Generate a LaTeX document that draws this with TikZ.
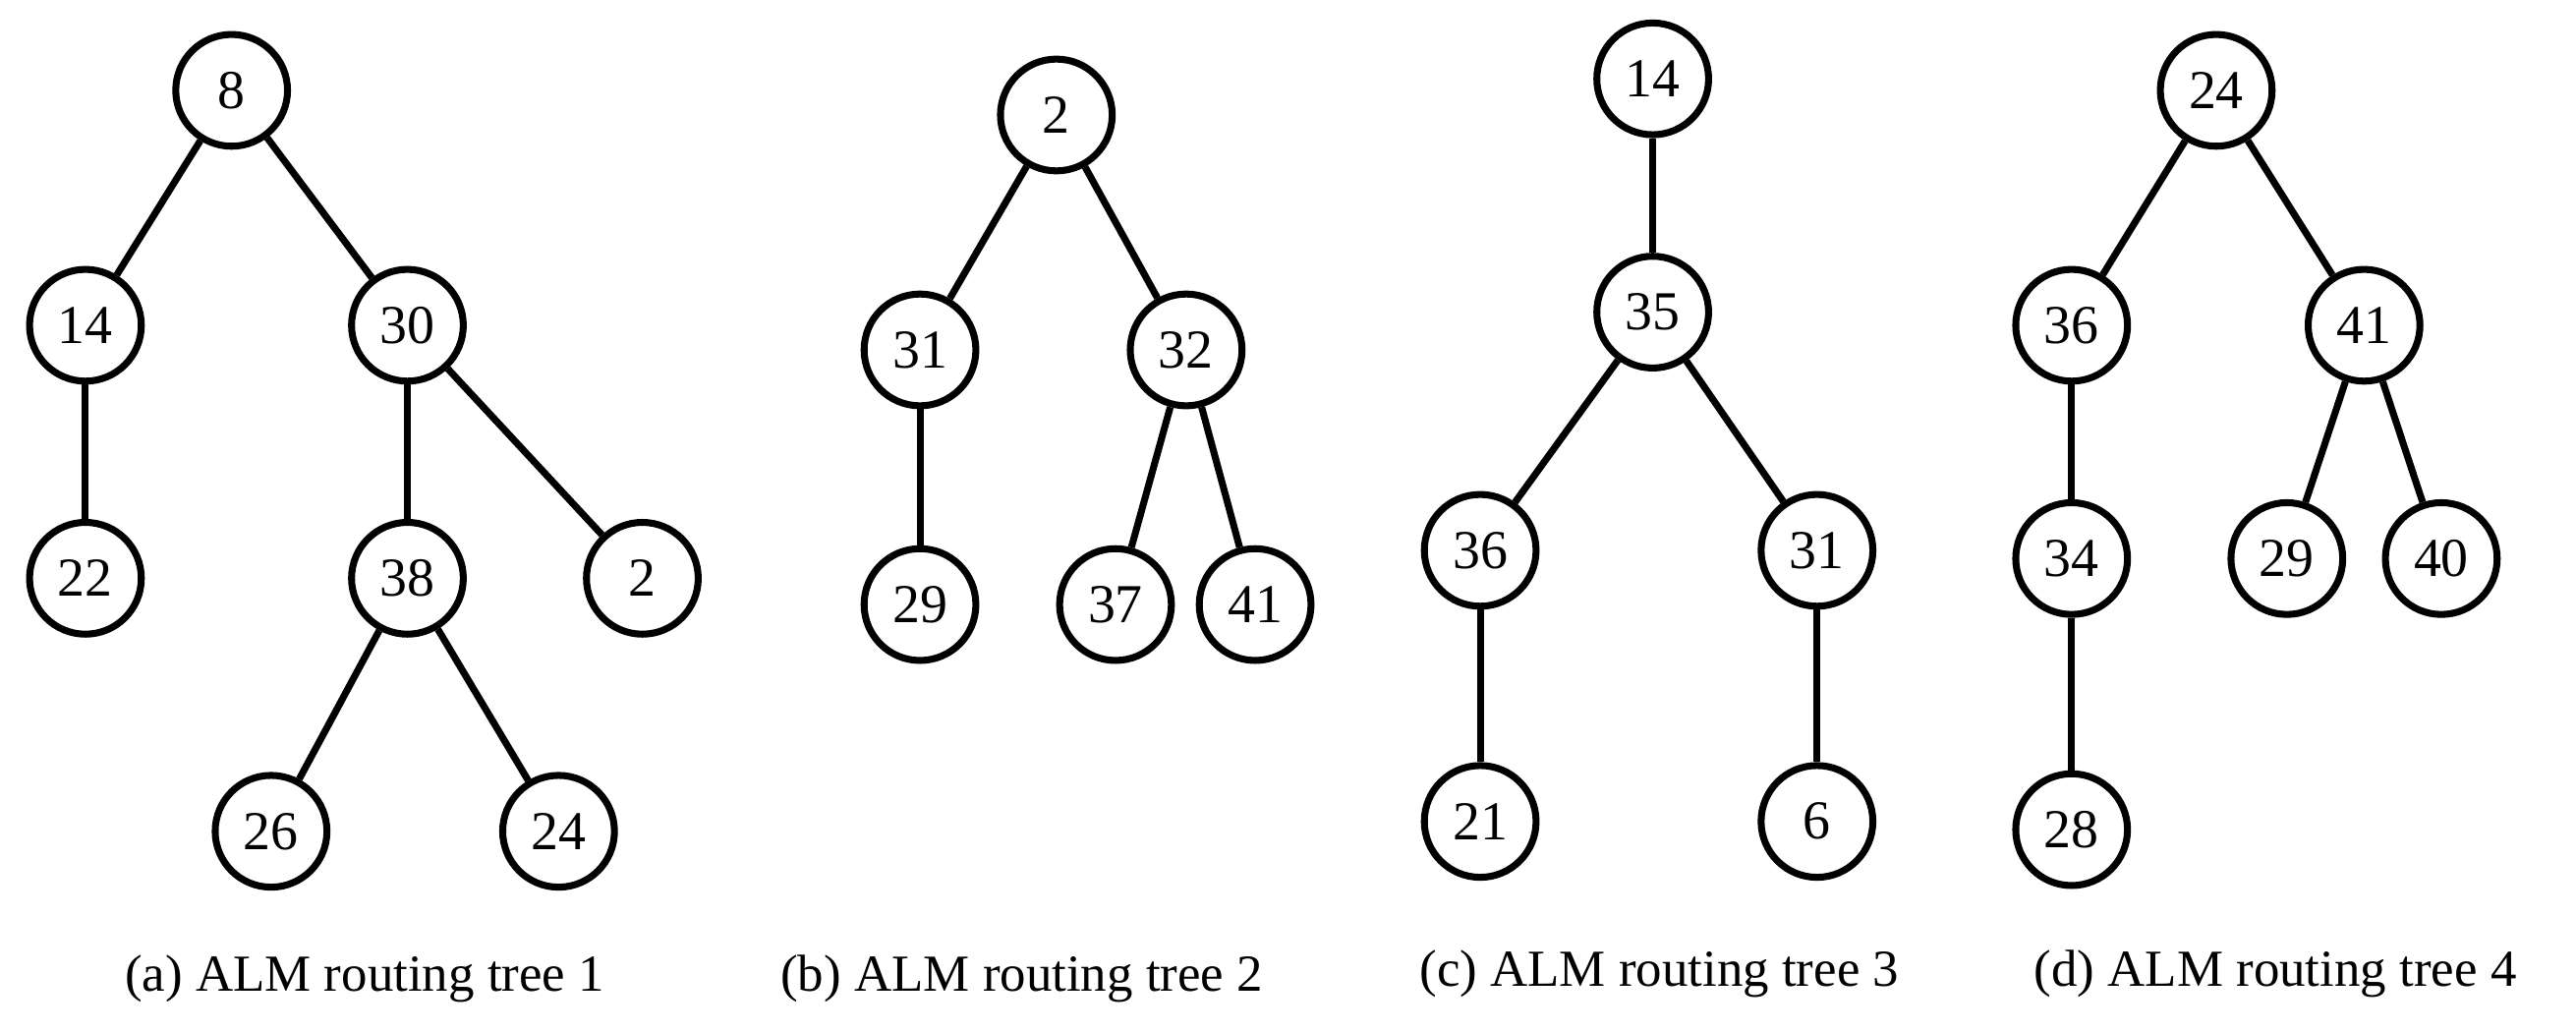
\documentclass[tikz,border=0pt]{standalone}
\usepackage{fontspec}
\setmainfont{Liberation Serif}
\usetikzlibrary{positioning}

\begin{document}
\begin{tikzpicture}[x=0.01cm,y=-0.01cm,
  vertex/.style={circle,draw,line width=1.2pt,minimum size=0.68cm,inner sep=0pt,font=\fontsize{9.5}{10}\selectfont},
  edge/.style={line width=1.2pt},
  caption/.style={font=\fontsize{9}{10}\selectfont}]
\useasboundingbox (0,0) rectangle (1568,628);
% tree 1
\node [vertex] (a8) at (141,55) {8};
\node [vertex] (a14) at (52,198) {14};
\node [vertex] (a30) at (248,198) {30};
\node [vertex] (a22) at (52,352) {22};
\node [vertex] (a38) at (248,352) {38};
\node [vertex] (a2) at (391,352) {2};
\node [vertex] (a26) at (165,506) {26};
\node [vertex] (a24) at (340,506) {24};
\draw [edge] (a8) -- (a14);
\draw [edge] (a8) -- (a30);
\draw [edge] (a14) -- (a22);
\draw [edge] (a30) -- (a38);
\draw [edge] (a30) -- (a2);
\draw [edge] (a38) -- (a26);
\draw [edge] (a38) -- (a24);
\node [caption] (capa) at (222,596) {(a) ALM routing tree 1};
% tree 2
\node [vertex] (b2) at (643,70) {2};
\node [vertex] (b31) at (560,213) {31};
\node [vertex] (b32) at (722,213) {32};
\node [vertex] (b29) at (560,368) {29};
\node [vertex] (b37) at (679,368) {37};
\node [vertex] (b41) at (764,368) {41};
\draw [edge] (b2) -- (b31);
\draw [edge] (b2) -- (b32);
\draw [edge] (b31) -- (b29);
\draw [edge] (b32) -- (b37);
\draw [edge] (b32) -- (b41);
\node [caption] (capb) at (622,596) {(b) ALM routing tree 2};
% tree 3
\node [vertex] (c14) at (1006,48) {14};
\node [vertex] (c35) at (1006,190) {35};
\node [vertex] (c36) at (901,335) {36};
\node [vertex] (c31) at (1106,335) {31};
\node [vertex] (c21) at (901,500) {21};
\node [vertex] (c6) at (1106,500) {6};
\draw [edge] (c14) -- (c35);
\draw [edge] (c35) -- (c36);
\draw [edge] (c35) -- (c31);
\draw [edge] (c36) -- (c21);
\draw [edge] (c31) -- (c6);
\node [caption] (capc) at (1010,593) {(c) ALM routing tree 3};
% tree 4
\node [vertex] (d24) at (1349,55) {24};
\node [vertex] (d36) at (1261,198) {36};
\node [vertex] (d41) at (1439,198) {41};
\node [vertex] (d34) at (1261,340) {34};
\node [vertex] (d29) at (1392,340) {29};
\node [vertex] (d40) at (1486,340) {40};
\node [vertex] (d28) at (1261,505) {28};
\draw [edge] (d24) -- (d36);
\draw [edge] (d24) -- (d41);
\draw [edge] (d36) -- (d34);
\draw [edge] (d34) -- (d28);
\draw [edge] (d41) -- (d29);
\draw [edge] (d41) -- (d40);
\node [caption] (capd) at (1385,593) {(d) ALM routing tree 4};
\end{tikzpicture}
\end{document}
